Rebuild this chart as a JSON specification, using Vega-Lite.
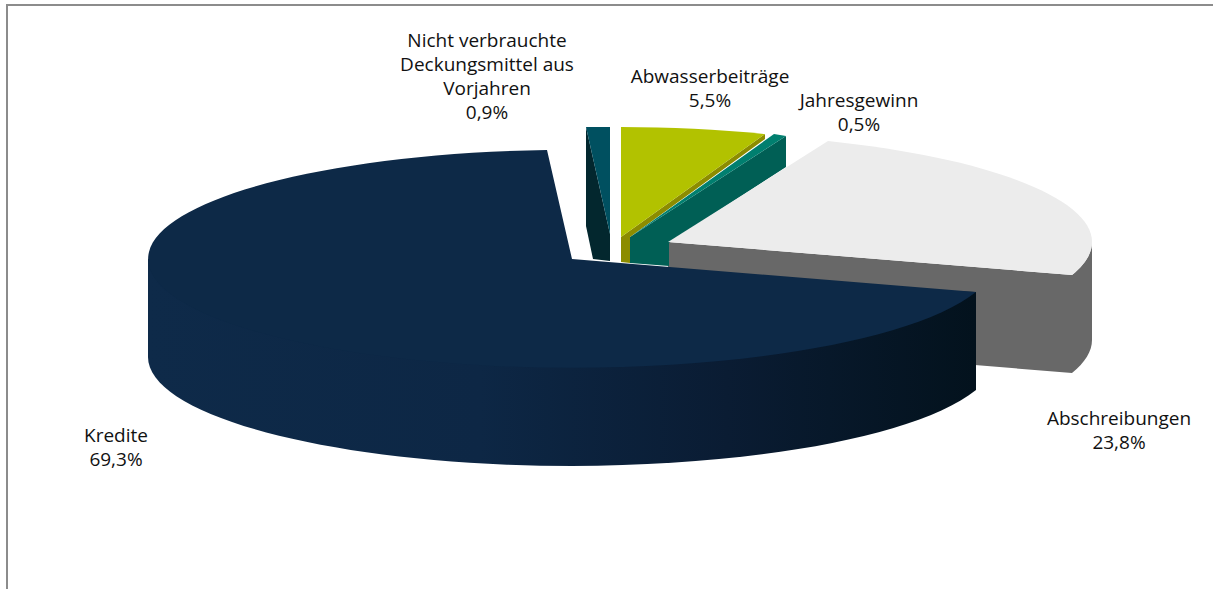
{"$schema":"https://vega.github.io/schema/vega-lite/v6.json","width":1214,"height":590,"autosize":{"type":"fit","contains":"padding"},"padding":0,"background":"#ffffff","config":{"view":{"stroke":null}},
"data":{"values":[
{"Posten":"Abschreibungen","Anteil":23.8,"Beschriftung":"Abschreibungen\n23,8%"},
{"Posten":"Jahresgewinn","Anteil":0.5,"Beschriftung":"Jahresgewinn\n0,5%"},
{"Posten":"Abwasserbeiträge","Anteil":5.5,"Beschriftung":"Abwasserbeiträge\n5,5%"},
{"Posten":"Nicht verbrauchte Deckungsmittel aus Vorjahren","Anteil":0.9,"Beschriftung":"Nicht verbrauchte\nDeckungsmittel aus\nVorjahren\n0,9%"},
{"Posten":"Kredite","Anteil":69.3,"Beschriftung":"Kredite\n69,3%"}
]},
"resolve":{"scale":{"shape":"independent","color":"independent"}},
"layer":[
{"data":{"values":[{"Rahmen":"Diagrammrahmen"}]},"mark":{"type":"point","filled":false,"size":4,"opacity":1,"stroke":"#8c8c8c","strokeWidth":2,"shape":"M-597 297L-597 -287L609 -287"}},
{"transform":[{"filter":"datum.Posten !== 'Kredite'"}],"mark":{"type":"point","filled":true,"size":4,"opacity":1},
"encoding":{
"shape":{"field":"Posten","type":"nominal","legend":null,"scale":{"domain":["Abschreibungen","Jahresgewinn","Abwasserbeiträge","Nicht verbrauchte Deckungsmittel aus Vorjahren"],"range":[
"M64 -50L468 -17A424 109 0 0 0 488 -50L488 48A424 109 0 0 1 468 81L64 48Z",
"M26 -55L182 -156L182 -125L65 -49L65 -26L26 -29Z",
"M161 -158L161 -153L26 -55L26 -29L17 -30L17 -55Z",
"M-18 -165L6 -58L6 -31L-11 -33L-18 -66Z"]}},
"color":{"field":"Posten","type":"nominal","legend":null,"scale":{"domain":["Abschreibungen","Jahresgewinn","Abwasserbeiträge","Nicht verbrauchte Deckungsmittel aus Vorjahren"],"range":["#686868","#005f55","#8c8c00","#03272e"]}}
}},
{"transform":[{"filter":"datum.Posten === 'Kredite'"}],"mark":{"type":"point","filled":true,"size":4,"opacity":1,"shape":"M-456 -33L-456 65A424 109 0 0 0 372 98L372 0Z","fill":{"gradient":"linear","x1":0,"y1":0,"x2":1,"y2":0,"stops":[{"offset":0,"color":"#0e2a49"},{"offset":0.4,"color":"#0d2745"},{"offset":0.7,"color":"#0a1c33"},{"offset":1,"color":"#03121d"}]}}},
{"mark":{"type":"point","filled":true,"size":4,"opacity":1},
"encoding":{
"shape":{"field":"Posten","type":"nominal","legend":null,"scale":{"domain":["Abschreibungen","Jahresgewinn","Abwasserbeiträge","Nicht verbrauchte Deckungsmittel aus Vorjahren","Kredite"],"range":[
"M64 -50L224 -151A424 109 0 0 1 468 -17Z",
"M26 -55L170 -158L182 -156Z",
"M17 -55L17 -165A424 109 0 0 1 161 -158Z",
"M-18 -165L6 -165L6 -58Z",
"M-32 -33L-57 -142A424 109 0 1 0 372 0Z"]}},
"color":{"field":"Posten","type":"nominal","legend":null,"scale":{"domain":["Abschreibungen","Jahresgewinn","Abwasserbeiträge","Nicht verbrauchte Deckungsmittel aus Vorjahren","Kredite"],"range":["#ececec","#007f6f","#b2c200","#005060","#0d2947"]}}
}},
{"transform":[{"filter":"datum.Posten === 'Abschreibungen'"}],"mark":{"type":"text","lineBreak":"\n","lineHeight":24,"font":"Open Sans","fontSize":19,"color":"#111111","align":"center","baseline":"middle","dx":515,"dy":127},"encoding":{"text":{"field":"Beschriftung"}}},
{"transform":[{"filter":"datum.Posten === 'Jahresgewinn'"}],"mark":{"type":"text","lineBreak":"\n","lineHeight":24,"font":"Open Sans","fontSize":19,"color":"#111111","align":"center","baseline":"middle","dx":255,"dy":-191},"encoding":{"text":{"field":"Beschriftung"}}},
{"transform":[{"filter":"datum.Posten === 'Abwasserbeiträge'"}],"mark":{"type":"text","lineBreak":"\n","lineHeight":24,"font":"Open Sans","fontSize":19,"color":"#111111","align":"center","baseline":"middle","dx":106,"dy":-215},"encoding":{"text":{"field":"Beschriftung"}}},
{"transform":[{"filter":"datum.Posten === 'Nicht verbrauchte Deckungsmittel aus Vorjahren'"}],"mark":{"type":"text","lineBreak":"\n","lineHeight":24,"font":"Open Sans","fontSize":19,"color":"#111111","align":"center","baseline":"middle","dx":-117,"dy":-251},"encoding":{"text":{"field":"Beschriftung"}}},
{"transform":[{"filter":"datum.Posten === 'Kredite'"}],"mark":{"type":"text","lineBreak":"\n","lineHeight":24,"font":"Open Sans","fontSize":19,"color":"#111111","align":"center","baseline":"middle","dx":-488,"dy":144},"encoding":{"text":{"field":"Beschriftung"}}}
]}
